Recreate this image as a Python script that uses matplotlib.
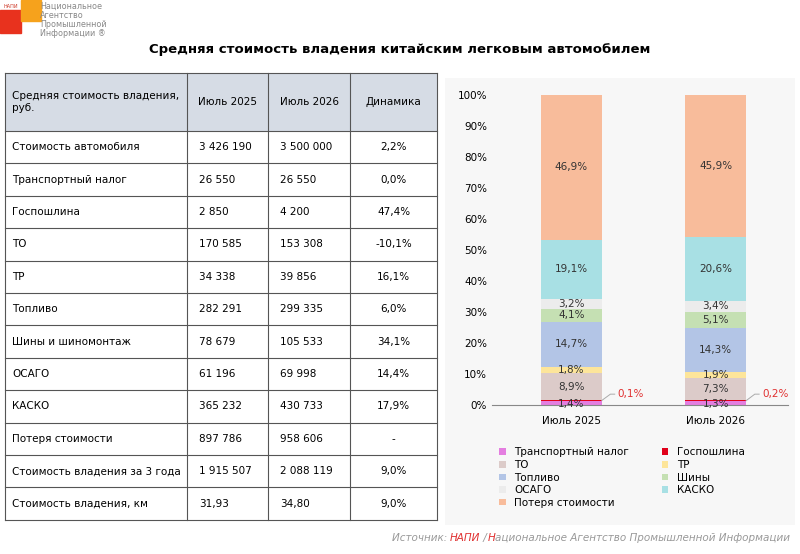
import matplotlib.pyplot as plt
import matplotlib.patches as mpatches

### ---------------- DATA ---------------- ###
header = ['Средняя стоимость владения,\nруб.', 'Июль 2025', 'Июль 2026', 'Динамика']
rows = ['Стоимость автомобиля', 'Транспортный налог', 'Госпошлина', 'ТО', 'ТР', 'Топливо',
        'Шины и шиномонтаж', 'ОСАГО', 'КАСКО', 'Потеря стоимости',
        'Стоимость владения за 3 года', 'Стоимость владения, км']
val_2025 = ['3 426 190', '26 550', '2 850', '170 585', '34 338', '282 291', '78 679',
            '61 196', '365 232', '897 786', '1 915 507', '31,93']
val_2026 = ['3 500 000', '26 550', '4 200', '153 308', '39 856', '299 335', '105 533',
            '69 998', '430 733', '958 606', '2 088 119', '34,80']
dynamics = ['2,2%', '0,0%', '47,4%', '-10,1%', '16,1%', '6,0%', '34,1%', '14,4%',
            '17,9%', '-', '9,0%', '9,0%']

bars = ['Июль 2025', 'Июль 2026']
segments = ['Транспортный налог', 'Госпошлина', 'ТО', 'ТР', 'Топливо', 'Шины',
            'ОСАГО', 'КАСКО', 'Потеря стоимости']
share_2025 = [1.4, 0.1, 8.9, 1.8, 14.7, 4.1, 3.2, 19.1, 46.9]
share_2026 = [1.3, 0.2, 7.3, 1.9, 14.3, 5.1, 3.4, 20.6, 45.9]
colors = ['#e47ee0', '#e0001a', '#dccbc9', '#fde59a', '#b3c5e6', '#c5e0b3',
          '#ececec', '#a8e0e4', '#f8bc9b']
### -------------------------------------- ###

fig = plt.figure(figsize=(8, 5.54), dpi=100)
bg = fig.add_axes([0, 0, 1, 1])
bg.set_xlim(0, 800)
bg.set_ylim(554, 0)
bg.axis('off')

# logo
bg.add_patch(mpatches.Rectangle((0, 10), 21, 23, color='#e8321e'))
bg.add_patch(mpatches.Rectangle((21, 0), 20, 21, color='#f6a21c'))
bg.text(3, 8, 'НАПИ', fontsize=3.5, color='#cc3322')
logo = 'Национальное\nАгентство\nПромышленной\nИнформации ®'
bg.text(40, 2, logo, fontsize=5.8, color='#888888', va='top', linespacing=1.0,
        family='DejaVu Sans Condensed')

bg.text(400, 50, 'Средняя стоимость владения китайским легковым автомобилем',
        ha='center', va='center', fontsize=9.5, fontweight='bold')

# table
cols = [5, 187, 268, 350, 437]
top, head_h, row_h = 73, 58, 32.4
bg.add_patch(mpatches.Rectangle((cols[0], top), cols[-1] - cols[0], head_h,
                                facecolor='#d6dce5', edgecolor='none'))
ys = [top, top + head_h] + [top + head_h + row_h * (i + 1) for i in range(len(rows))]
for y in ys:
    bg.plot([cols[0], cols[-1]], [y, y], color='#555555', lw=0.8)
for x in cols:
    bg.plot([x, x], [ys[0], ys[-1]], color='#555555', lw=0.8)
fs = 7.5
bg.text(12, top + head_h / 2, header[0], va='center', fontsize=fs)
for j in range(1, 4):
    bg.text((cols[j] + cols[j + 1]) / 2, top + head_h / 2, header[j],
            ha='center', va='center', fontsize=fs)
for i, name in enumerate(rows):
    yc = ys[i + 1] + row_h / 2
    bg.text(12, yc, name, va='center', fontsize=fs)
    bg.text(cols[1] + 12, yc, val_2025[i], va='center', fontsize=fs)
    bg.text(cols[2] + 12, yc, val_2026[i], va='center', fontsize=fs)
    bg.text((cols[3] + cols[4]) / 2, yc, dynamics[i], ha='center', va='center', fontsize=fs)

# chart panel background
bg.add_patch(mpatches.Rectangle((445, 78), 350, 447, facecolor='#f7f7f7', edgecolor='none'))

ax = fig.add_axes([492 / 800, 1 - 405 / 554, 296 / 800, 310 / 554])
ax.set_facecolor('none')
x = [0, 1]
bottoms = [0, 0]
for k, seg in enumerate(segments):
    vals = [share_2025[k], share_2026[k]]
    ax.bar(x, vals, 0.42, bottom=bottoms, color=colors[k], label=seg)
    for b in range(2):
        if seg != 'Госпошлина':
            ax.text(x[b], bottoms[b] + vals[b] / 2 - (0.3 if k == 0 else 0),
                    f'{vals[b]:.1f}%'.replace('.', ','), ha='center', va='center',
                    fontsize=7.5, color='#333333')
        else:
            yv = bottoms[b] + vals[b] / 2
            ax.plot([x[b] + 0.21, x[b] + 0.27, x[b] + 0.3], [yv, 3.5, 3.5],
                    color='#aaaaaa', lw=0.7)
            ax.text(x[b] + 0.32, 3.5, f'{vals[b]:.1f}%'.replace('.', ','),
                    color='#e03030', fontsize=7.5, va='center')
    bottoms = [bottoms[0] + vals[0], bottoms[1] + vals[1]]

ax.set_xlim(-0.55, 1.5)
ax.set_ylim(0, 100)
ax.set_yticks(range(0, 101, 10))
ax.set_yticklabels([f'{v}%' for v in range(0, 101, 10)], fontsize=7.5)
ax.set_xticks(x)
ax.set_xticklabels(bars, fontsize=7.5)
ax.tick_params(axis='y', length=0)
ax.tick_params(axis='x', length=0, pad=8)
for s in ['top', 'right', 'left']:
    ax.spines[s].set_visible(False)
ax.spines['bottom'].set_color('#888888')

# legend filled row by row
handles, labels = ax.get_legend_handles_labels()
order = list(range(0, 9, 2)) + list(range(1, 9, 2))
fig.legend([handles[i] for i in order], [labels[i] for i in order],
           loc='upper left', bbox_to_anchor=(490 / 800, 1 - 438 / 554),
           ncol=2, fontsize=7.5, frameon=False, handlelength=0.6, handleheight=0.6,
           columnspacing=3.2, labelspacing=0.25)

# source line in coloured pieces, right aligned
parts = [('Источник: ', '#999999'), ('НАПИ', '#e03030'), (' /', '#999999'),
         ('Н', '#e03030'), ('ациональное Агентство Промышленной Информации', '#999999')]
r = fig.canvas.get_renderer()
xpos = 790
for txt, col in reversed(parts):
    t = bg.text(xpos, 538, txt, ha='right', va='center', fontsize=7.5,
                style='italic', color=col)
    xpos -= t.get_window_extent(r).width
fig.savefig('out.png', dpi=100)
